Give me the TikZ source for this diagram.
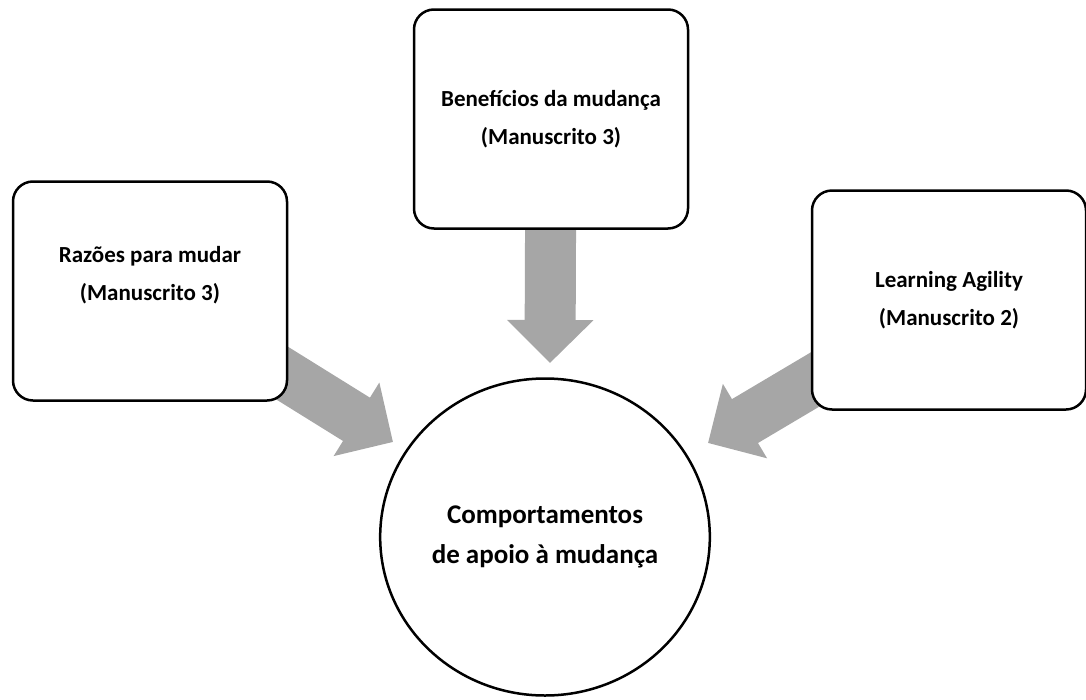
\documentclass[tikz,border=0pt]{standalone}
\usepackage{fontspec}
\setmainfont{Carlito}
\usetikzlibrary{arrows.meta,shapes.geometric,backgrounds}
\definecolor{arrowgray}{HTML}{A6A6A6}
\tikzset{
  box/.style={draw, line width=2.5pt, rounded corners=20pt, fill=white,
    minimum width=274pt, minimum height=219pt, align=center,
    font=\bfseries\fontsize{23}{38}\selectfont},
  bigarrow/.style={arrowgray, line width=51pt, -{Triangle[width=84pt,length=43pt]}}
}
\begin{document}
\begin{tikzpicture}[x=1pt, y=-1pt]
    \useasboundingbox (0,0) rectangle (1086,699);

    % Boxes
    \node[box, text depth=36pt] (razoes) at (150,291) {Razões para mudar\\(Manuscrito 3)};
    \node[box] (beneficios) at (551,119) {Benefícios da mudança\\(Manuscrito 3)};
    \node[box] (agility) at (949,300) {Learning Agility\\(Manuscrito 2)};

    % Central circle
    \node[ellipse, draw, line width=2.5pt, fill=white, minimum width=329pt, minimum height=317pt,
        align=center, font=\bfseries\fontsize{27}{40}\selectfont] (apoio) at (545,537)
        {Comportamentos\\de apoio à mudança};

    % Arrow tips
    \coordinate (tipL) at (393,442);
    \coordinate (tipT) at (550,363);
    \coordinate (tipR) at (708,443);

    % Arrows behind the boxes
    \begin{pgfonlayer}{background}
        \draw[bigarrow] (razoes.center) -- (tipL);
        \draw[bigarrow] (beneficios.center) -- (tipT);
        \draw[bigarrow] (agility.center) -- (tipR);
    \end{pgfonlayer}
\end{tikzpicture}
\end{document}
